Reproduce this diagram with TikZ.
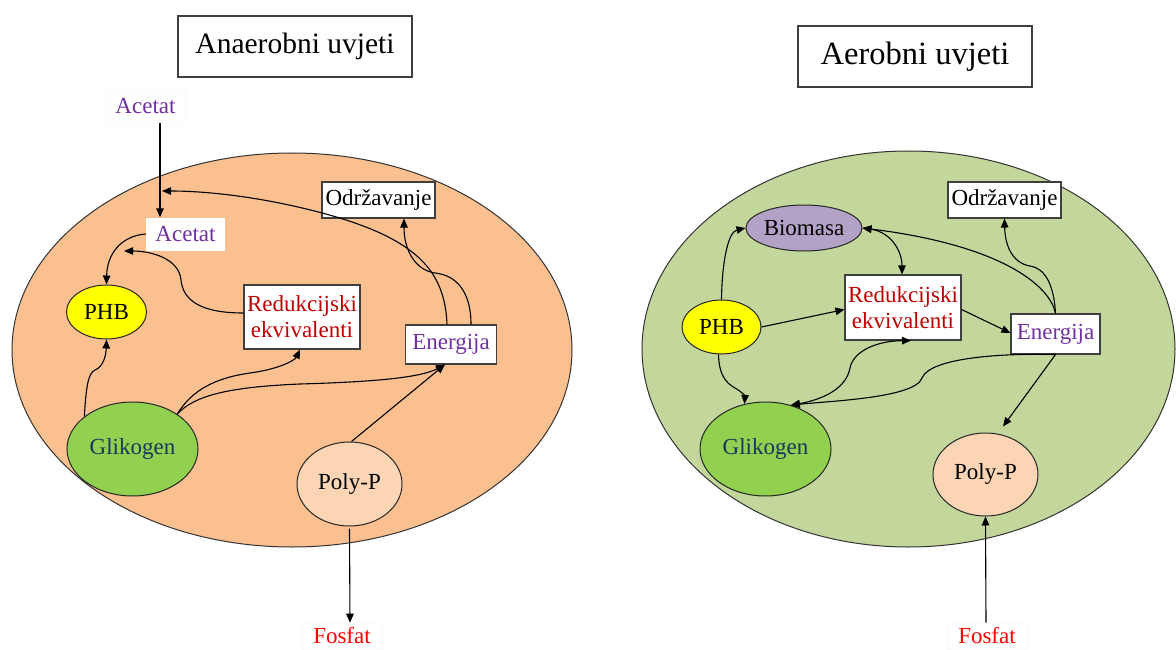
\documentclass[tikz,border=0pt]{standalone}
\usepackage{fontspec}
\setmainfont{Liberation Serif}
\usetikzlibrary{arrows.meta,shapes.geometric}
\definecolor{cellL}{HTML}{FAC090}
\definecolor{cellR}{HTML}{C3D69B}
\definecolor{phbc}{HTML}{FFFF00}
\definecolor{glic}{HTML}{92D050}
\definecolor{polc}{HTML}{FCD5B5}
\definecolor{bioc}{HTML}{B3A2C7}
\definecolor{purp}{HTML}{7030A0}
\definecolor{redk}{HTML}{C00000}
\definecolor{fosc}{HTML}{FF0000}
\definecolor{navy}{HTML}{17375E}
\definecolor{boxc}{HTML}{3F3F3F}
\begin{document}
\begin{tikzpicture}[x=1pt,y=-1pt,
  lbl/.style={font=\fontsize{23}{26}\selectfont, inner sep=0pt, align=center},
  box/.style={lbl, rectangle, draw=boxc, line width=1.1pt, fill=white},
  plain/.style={lbl, rectangle, fill=white, draw=black!2, line width=0.6pt},
  oval/.style={lbl, ellipse, draw=black!85, line width=1pt},
  arr/.style={line width=1.1pt, -{Triangle[length=9pt,width=7.5pt]}},
  darr/.style={line width=1.1pt, {Triangle[length=9pt,width=7.5pt]}-{Triangle[length=9pt,width=7.5pt]}}
]
\useasboundingbox (0,0) rectangle (1176,650);
\clip (0,0) rectangle (1176,650);

% cells
\draw[fill=cellL, draw=black!80, line width=1pt] (292,350) ellipse [x radius=280pt, y radius=197pt];
\draw[fill=cellR, draw=black!80, line width=1pt] (908.5,349) ellipse [x radius=266.5pt, y radius=198pt];

% ---------- left: anaerobic ----------
\node[box, minimum width=234pt, minimum height=61pt, font=\fontsize{29.5}{32}\selectfont] (tL) at (295,46.5) {Anaerobni uvjeti};
\node[plain, text=purp, minimum width=79pt, minimum height=34pt] (acetTop) at (145.5,106) {Acetat};
\node[lbl, rectangle, fill=white, text=purp, minimum width=79pt, minimum height=33pt] (acetIn) at (185.5,234) {Acetat};
\node[box, minimum width=113pt, minimum height=36pt] (odrL) at (378.5,200) {Održavanje};
\node[box, text=redk, minimum width=116pt, minimum height=64pt] (redL) at (302,317) {Redukcijski\\ekvivalenti};
\node[box, text=purp, minimum width=91pt, minimum height=39pt] (enL) at (451,344.5) {Energija};
\node[oval, fill=phbc, minimum width=80pt, minimum height=54pt] (phbL) at (106.5,312) {PHB};
\node[oval, fill=glic, text=navy, minimum width=131pt, minimum height=94pt] (gliL) at (132.5,449) {Glikogen};
\node[oval, fill=polc, minimum width=105pt, minimum height=84pt] (polL) at (349.5,484) {Poly-P};
\node[plain, text=fosc, minimum width=80pt, minimum height=26pt] (fosL) at (342,636) {Fosfat};
\coordinate (jL) at (162,191);
\coordinate (kL) at (124,251);

\draw[arr] ([xshift=14.5pt]acetTop.south) -- ([xshift=-25.5pt]acetIn.north);
\draw[arr] ([xshift=-4pt]enL.north) .. controls (445,270) and (415,240) .. (333,216) .. controls (270,198) and (210,191) .. (jL);
\draw[arr] ([xshift=20pt]enL.north) .. controls (471,290) and (455,275) .. (435,273) .. controls (415,270) and (404,250) .. ([xshift=25.5pt]odrL.south);
\draw[arr] ([yshift=4pt]redL.west) .. controls (200,313) and (183,300) .. (181,280) .. controls (179,258) and (150,251) .. (kL);
\draw[arr] (acetIn.west) .. controls (120,236) and (107,255) .. (phbL.north);
\draw[arr] (gliL.146) .. controls (86,388) and (88,373) .. (95,370) .. controls (103,367) and (106,356) .. (phbL.south);
\draw[arr] (gliL.38) .. controls (192,390) and (215,378) .. (250,373) .. controls (280,369) and (295,360) .. ([xshift=-2pt]redL.south);
\draw[arr] (gliL.38) .. controls (195,395) and (230,387) .. (300,384) .. controls (370,382) and (420,378) .. ([xshift=-6pt]enL.south);
\draw[arr] ([xshift=2pt]polL.north) -- ([xshift=-6pt]enL.south);
\draw[arr] ([yshift=-2pt]polL.south) -- ([xshift=8pt]fosL.north);

% ---------- right: aerobic ----------
\node[box, minimum width=234pt, minimum height=61pt, font=\fontsize{32.5}{35}\selectfont] (tR) at (915,56.5) {Aerobni uvjeti};
\node[oval, fill=bioc, minimum width=116pt, minimum height=46pt] (bio) at (804,228) {Biomasa};
\node[box, minimum width=113pt, minimum height=36pt] (odrR) at (1004.5,200) {Održavanje};
\node[box, text=redk, minimum width=116pt, minimum height=65pt] (redR) at (903,307.5) {Redukcijski\\ekvivalenti};
\node[box, text=purp, minimum width=89pt, minimum height=40pt] (enR) at (1055.5,334) {Energija};
\node[oval, fill=phbc, minimum width=79pt, minimum height=54pt] (phbR) at (721.5,327) {PHB};
\node[oval, fill=glic, text=navy, minimum width=131pt, minimum height=94pt] (gliR) at (765.5,449) {Glikogen};
\node[oval, fill=polc, minimum width=105pt, minimum height=83pt] (polR) at (985.5,474.5) {Poly-P};
\node[plain, text=fosc, minimum width=80pt, minimum height=26pt] (fosR) at (987,636) {Fosfat};

\draw[arr] (phbR.east) -- ([yshift=-2pt]redR.west);
\draw[arr] ([yshift=-2pt]redR.east) -- ([yshift=1pt]enR.west);
\draw[arr] (phbR.north) .. controls (722,262) and (728,232) .. (bio.west);
\draw[arr] ([xshift=-3pt]phbR.south) .. controls (719,375) and (726,383) .. (735,388) .. controls (742,392) and (745,396) .. (gliR.115);
\draw[darr] (bio.east) .. controls (890,232) and (902,250) .. ([xshift=-1pt]redR.north);
\draw[arr] (enR.north) .. controls (1050,285) and (1000,245) .. (bio.east);
\draw[arr] (enR.north) .. controls (1054,285) and (1045,268) .. (1030,266) .. controls (1012,263) and (1005,245) .. (odrR.south);
\draw[arr] (enR.south) -- ([shift={(17.5pt,6pt)}]polR.north);
\draw[darr] ([xshift=8pt]redR.south) .. controls (875,341) and (853,352) .. (850,368) .. controls (846,390) and (820,400) .. (gliR.60);
\draw[arr] (enR.south) .. controls (1000,353) and (930,358) .. (922,378) .. controls (915,398) and (830,401) .. (gliR.60);
\draw[arr] ([xshift=-1pt]fosR.north) -- (polR.south);
\end{tikzpicture}
\end{document}
